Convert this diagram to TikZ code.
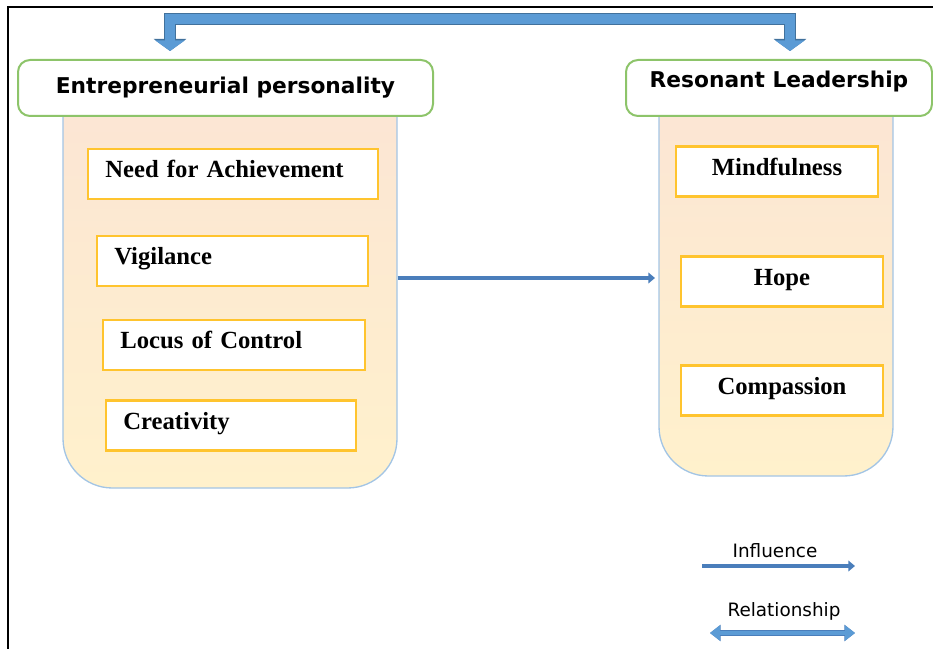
\documentclass[tikz,border=0pt]{standalone}
\usepackage{fontspec}
\setmainfont{Liberation Serif}
\setsansfont{DejaVu Sans}
\usetikzlibrary{arrows.meta,positioning}

\definecolor{peach}{HTML}{FBE4D5}
\definecolor{cream}{HTML}{FFF1CC}
\definecolor{panelline}{HTML}{A3C5E5}
\definecolor{headline}{HTML}{8DC46A}
\definecolor{traitline}{HTML}{FFC42E}
\definecolor{flowblue}{HTML}{4A7EBB}
\definecolor{blockblue}{HTML}{5B9BD5}
\definecolor{blockedge}{HTML}{41719C}

\begin{document}
\begin{tikzpicture}[x=0.75pt, y=-0.75pt]
\tikzset{
    panel/.style={rectangle, rounded corners=37pt, draw=panelline, line width=1pt, top color=peach, bottom color=cream, inner sep=0pt},
    header/.style={rectangle, rounded corners=9pt, draw=headline, line width=1.5pt, fill=white, minimum height=42pt, inner sep=0pt, font=\sffamily\bfseries\fontsize{16.3}{19}\selectfont},
    trait/.style={rectangle, draw=traitline, line width=1.8pt, fill=white, minimum height=37.5pt, inner xsep=13pt, inner ysep=0pt, text height=13.5pt, text depth=7.8pt, font=\bfseries\fontsize{18.5}{22}\selectfont},
    leftrait/.style={trait, align=left},
    rightrait/.style={trait, align=center, minimum width=151.5pt},
    flow/.style={draw=flowblue, line width=3pt, -{Triangle[length=5pt,width=8pt]}},
    bigarrow/.style={draw=blockblue, line width=8pt, {Triangle[length=8pt,width=22pt]}-{Triangle[length=8pt,width=22pt]},
        preaction={draw=blockedge, line width=9pt, {Triangle[length=9pt,width=24pt]}-{Triangle[length=9pt,width=24pt]}}},
    legendtext/.style={font=\sffamily\fontsize{13.8}{16}\selectfont, inner sep=0pt},
    relarrow/.style={draw=blockblue, line width=3.5pt, {Triangle[length=7.5pt,width=11pt]}-{Triangle[length=7.5pt,width=11pt]},
        preaction={draw=flowblue, line width=4.5pt, {Triangle[length=8pt,width=12pt]}-{Triangle[length=8pt,width=12pt]}}}
}
\useasboundingbox (0,0) rectangle (933,649);

% outer frame, only left and top edges show
\draw[line width=2pt] (8,649) -- (8,7) -- (933,7);

% the two columns
\node[panel, minimum width=250.5pt, minimum height=321pt] (entpanel) at (230,274) {};
\node[panel, minimum width=175.5pt, minimum height=312pt] (respanel) at (776,268) {};

\node[header, minimum width=311.25pt, text height=14pt, text depth=5.4pt] (ent) at (225.5,88) {Entrepreneurial personality};
\node[header, minimum width=229.5pt, text height=12pt, text depth=12pt] (res) at (779,88) {Resonant Leadership};

% traits on the left
\node[leftrait, text width=191.5pt] (need) at (233,174) {Need for Achievement};
\node[leftrait, text width=177.25pt] (vigil) at (232.5,261) {Vigilance};
\node[leftrait, text width=170.5pt] (locus) at (234,345) {Locus of Control};
\node[leftrait, text width=161.5pt] (creat) at (231,425.5) {Creativity};

% traits on the right
\node[rightrait] (mind) at (777,171.5) {Mindfulness};
\node[rightrait] (hope) at (782,281.5) {Hope};
\node[rightrait] (comp) at (782,390.5) {Compassion};

% relationship between the two headers
\coordinate (top) at (425,19);
\draw[bigarrow] ([xshift=-41.6pt,yshift=6pt]ent.north) |- (top) -| ([xshift=8.25pt,yshift=6pt]res.north);

% influence of one column on the other
\draw[flow] ([yshift=-3pt]entpanel.east) -- ([yshift=-3pt,xshift=-2.5pt]entpanel.east -| respanel.west);

% legend
\node[legendtext] (inflab) at (775,551) {Influence};
\node[legendtext] (rellab) at (784,611) {Relationship};
\coordinate (infA) at (702,566);
\coordinate (infB) at (855,566);
\coordinate (relA) at (710,633);
\coordinate (relB) at (855,633);
\draw[flow, line width=2.5pt] (infA) -- (infB);
\draw[relarrow] (relA) -- (relB);

\end{tikzpicture}
\end{document}
